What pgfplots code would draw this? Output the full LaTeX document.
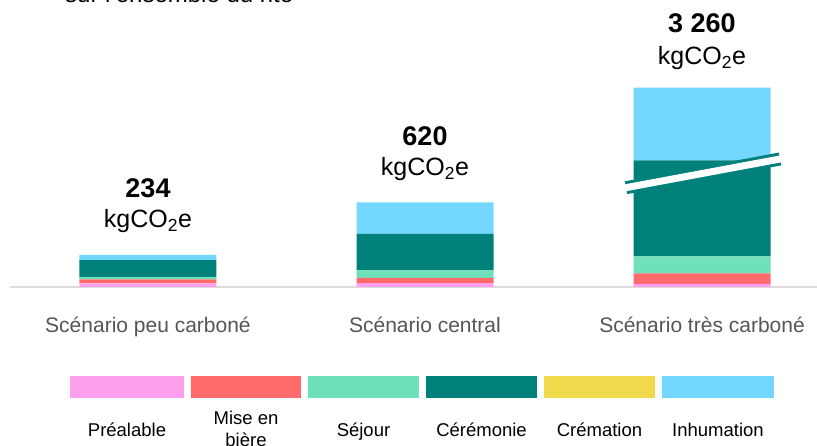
\documentclass[border=0pt]{standalone}
\usepackage{fontspec}
\setmainfont{Liberation Sans}
\usepackage{pgfplots}
\pgfplotsset{compat=1.18}
\definecolor{cPre}{HTML}{FFA0EE}
\definecolor{cMise}{HTML}{FF6B6B}
\definecolor{cSej}{HTML}{6EE0BA}
\definecolor{cCer}{HTML}{00807A}
\definecolor{cCrem}{HTML}{F0DA4B}
\definecolor{cInh}{HTML}{73D7FF}
\definecolor{axgray}{HTML}{DCDCDC}
\definecolor{labgray}{HTML}{555555}
\begin{document}
\begin{tikzpicture}
\path[use as bounding box] (0,0) rectangle (817pt,446pt);
\begin{axis}[
  at={(10pt,159pt)}, anchor=south west,
  scale only axis, width=807pt, height=287pt,
  xmin=-0.498, xmax=2.415, ymin=0, ymax=2095,
  axis x line*=bottom, axis y line=none,
  x axis line style={-, draw=axgray, line width=1.5pt},
  xtick={0,1,2},
  xticklabels={Scénario peu carboné, Scénario central, Scénario très carboné},
  xtick style={draw=none},
  xticklabel style={font=\fontsize{21}{25}\selectfont, text=labgray, anchor=base, yshift=-46pt},
  ytick=\empty,
  ybar stacked, bar width=137pt,
  clip=false,
]
\addplot[fill=cPre, draw=none] coordinates {(0,26) (1,29) (2,22)};
\addplot[fill=cMise, draw=none] coordinates {(0,29) (1,37) (2,78)};
\addplot[fill=cSej, draw=none] coordinates {(0,18) (1,56) (2,124)};
\addplot[fill=cCer, draw=none] coordinates {(0,124) (1,265) (2,700)};
\addplot[fill=cInh, draw=none] coordinates {(0,37) (1,231) (2,531)};
\end{axis}
\begin{scope}[x=1pt,y=1pt]
% axis break on the third bar
\draw[cCer, line width=13pt] (626,258.3) -- (780,287);
\draw[white, line width=7pt] (620,257.2) -- (786,288.1);
% value labels
\node[anchor=base, font=\bfseries\fontsize{27}{30}\selectfont] at (148,248) {234};
\node[anchor=base, font=\fontsize{25}{28}\selectfont] at (148,218) {kgCO\textsubscript{2}e};
\node[anchor=base, font=\bfseries\fontsize{27}{30}\selectfont] at (425,300) {620};
\node[anchor=base, font=\fontsize{25}{28}\selectfont] at (425,270) {kgCO\textsubscript{2}e};
\node[anchor=base, font=\bfseries\fontsize{27}{30}\selectfont] at (702,413) {3 260};
\node[anchor=base, font=\fontsize{25}{28}\selectfont] at (702,381) {kgCO\textsubscript{2}e};
% title (partly cut off)
\node[anchor=base west, inner sep=0pt, font=\fontsize{24}{28}\selectfont] at (65,443) {sur l'ensemble du rite};
% legend
\fill[cPre]  (70,48) rectangle (184,70);
\fill[cMise] (191,48) rectangle (301,70);
\fill[cSej]  (308,48) rectangle (419,70);
\fill[cCer]  (426,48) rectangle (537,70);
\fill[cCrem] (544,48) rectangle (655,70);
\fill[cInh]  (662,48) rectangle (774,70);
\begin{scope}[every node/.style={anchor=base, font=\fontsize{18.5}{22}\selectfont}]
\node at (127,9) {Préalable};
\node at (246,21) {Mise en};
\node at (246,-1) {bière};
\node at (363.5,9) {Séjour};
\node at (481.5,9) {Cérémonie};
\node at (599.5,9) {Crémation};
\node at (718,9) {Inhumation};
\end{scope}
\end{scope}
\end{tikzpicture}
\end{document}
